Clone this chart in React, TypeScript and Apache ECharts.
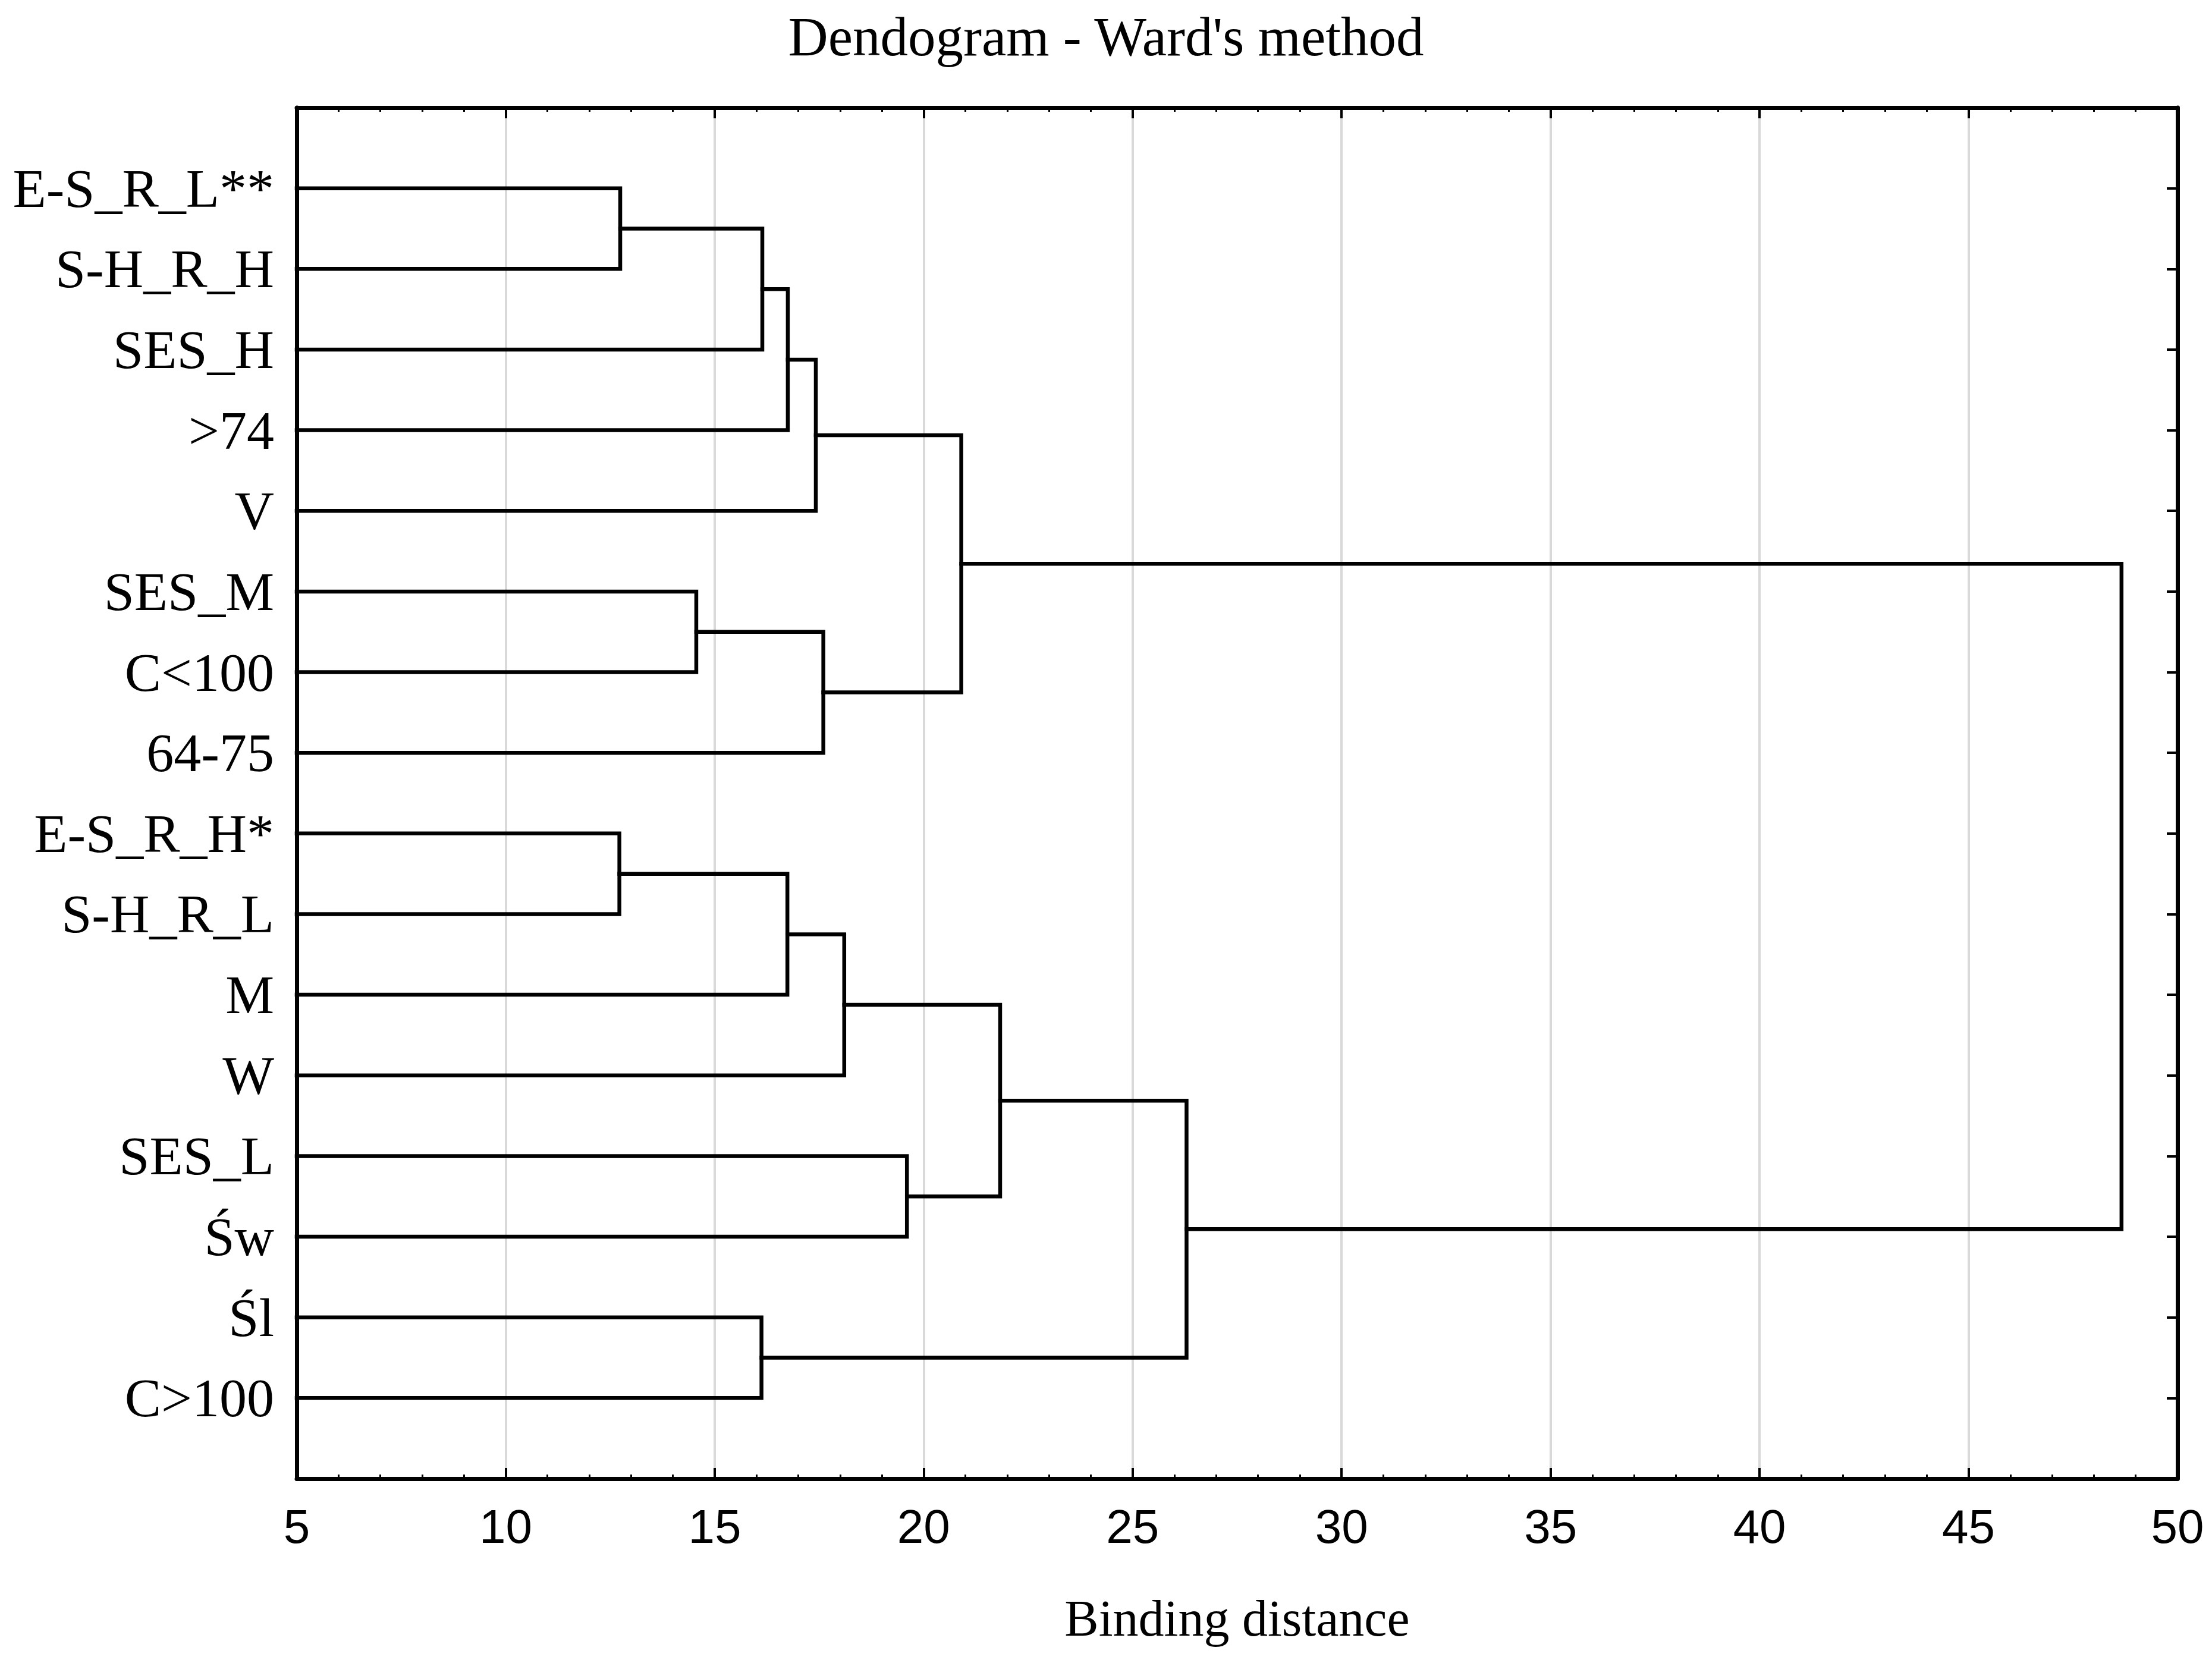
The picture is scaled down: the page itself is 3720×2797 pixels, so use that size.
import React, { useEffect, useRef } from "react";
import * as echarts from "echarts";

// Leaf labels, top to bottom
const leafLabels = [
  "E-S_R_L**", "S-H_R_H", "SES_H", ">74", "V", "SES_M", "C<100", "64-75",
  "E-S_R_H*", "S-H_R_L", "M", "W", "SES_L", "Św", "Śl", "C>100",
];
// Linkage: leaves are 0..15, merge k creates node 16+k
const mergeA = [0, 8, 5, 14, 16, 20, 17, 21, 18, 22, 12, 23, 25, 28, 27];
const mergeB = [1, 9, 6, 15, 2, 3, 10, 4, 7, 11, 13, 24, 26, 19, 29];
const mergeHeight = [12.74, 12.72, 14.56, 16.12, 16.14, 16.75, 16.74, 17.42, 17.6, 18.1, 19.6, 20.9, 21.83, 26.29, 48.66];

const xMin = 5;
const xMax = 50;
const xInterval = 5;

const titleText = "Dendogram - Ward's method";
const xName = "Binding distance";

const SERIF = "'Liberation Serif', 'Times New Roman', serif";
const SANS = "'Liberation Sans', Arial, sans-serif";

function buildSeries() {
  const n = leafLabels.length;
  const nodeX: number[] = [];
  const nodeY: number[] = [];
  for (let i = 0; i < n; i++) {
    nodeX.push(xMin);
    nodeY.push(i + 1);
  }
  const series: any[] = [];
  for (let k = 0; k < mergeA.length; k++) {
    const a = mergeA[k];
    const b = mergeB[k];
    const h = mergeHeight[k];
    series.push({
      type: "line",
      xAxisIndex: 0,
      yAxisIndex: 0,
      showSymbol: false,
      symbol: "none",
      silent: true,
      data: [
        [nodeX[a], nodeY[a]],
        [h, nodeY[a]],
        [h, nodeY[b]],
        [nodeX[b], nodeY[b]],
      ],
      lineStyle: { color: "#000", width: 6.5, cap: "square", join: "miter" },
      z: 3,
    });
    nodeX.push(h);
    nodeY.push((nodeY[a] + nodeY[b]) / 2);
  }
  return series;
}

export default function App() {
  const ref = useRef<HTMLDivElement>(null);
  useEffect(() => {
    if (!ref.current) return;
    const chart = echarts.init(ref.current, null, { renderer: "svg" });
    const axisLine = { show: true, onZero: false, lineStyle: { color: "#000", width: 7 } };
    const yMax = leafLabels.length + 1;
    chart.setOption({
      animation: false,
      backgroundColor: "#fff",
      title: {
        text: titleText,
        left: "center",
        top: 10,
        textStyle: { fontFamily: SERIF, fontSize: 93, fontWeight: "normal", color: "#000" },
      },
      grid: { left: 499, right: 58, top: 181, bottom: 310, containLabel: false },
      xAxis: [
        {
          type: "value",
          position: "bottom",
          min: xMin,
          max: xMax,
          interval: xInterval,
          name: xName,
          nameLocation: "middle",
          nameGap: 192,
          nameTextStyle: { fontFamily: SERIF, fontSize: 86, color: "#000" },
          axisLine,
          axisTick: { show: true, inside: true, length: 18, lineStyle: { color: "#000", width: 4 } },
          minorTick: { show: true, splitNumber: 5, length: 7, lineStyle: { color: "#000", width: 3 } },
          axisLabel: { show: true, margin: 40, fontFamily: SANS, fontSize: 80, color: "#000" },
          splitLine: { show: true, lineStyle: { color: "#d9d9d9", width: 4 } },
        },
        {
          type: "value",
          position: "top",
          min: xMin,
          max: xMax,
          interval: xInterval,
          axisLine,
          axisTick: { show: true, inside: true, length: 18, lineStyle: { color: "#000", width: 4 } },
          minorTick: { show: true, splitNumber: 5, length: 7, lineStyle: { color: "#000", width: 3 } },
          axisLabel: { show: false },
          splitLine: { show: false },
        },
      ],
      yAxis: [
        {
          type: "value",
          position: "left",
          inverse: true,
          min: 0,
          max: yMax,
          interval: 1,
          axisLine,
          axisTick: { show: true, inside: true, length: 18, lineStyle: { color: "#000", width: 4 } },
          axisLabel: {
            show: true,
            margin: 38,
            fontFamily: SERIF,
            fontSize: 92,
            color: "#000",
            formatter: (v: number) => leafLabels[Math.round(v) - 1] ?? "",
          },
          splitLine: { show: false },
        },
        {
          type: "value",
          position: "right",
          inverse: true,
          min: 0,
          max: yMax,
          interval: 1,
          axisLine,
          axisTick: { show: true, inside: true, length: 18, lineStyle: { color: "#000", width: 4 } },
          axisLabel: { show: false },
          splitLine: { show: false },
        },
      ],
      series: buildSeries(),
    });
    return () => chart.dispose();
  }, []);
  return (
    <div
      ref={ref}
      style={{ position: "absolute", left: 0, top: 0, width: 3720, height: 2797, background: "#fff" }}
    />
  );
}
